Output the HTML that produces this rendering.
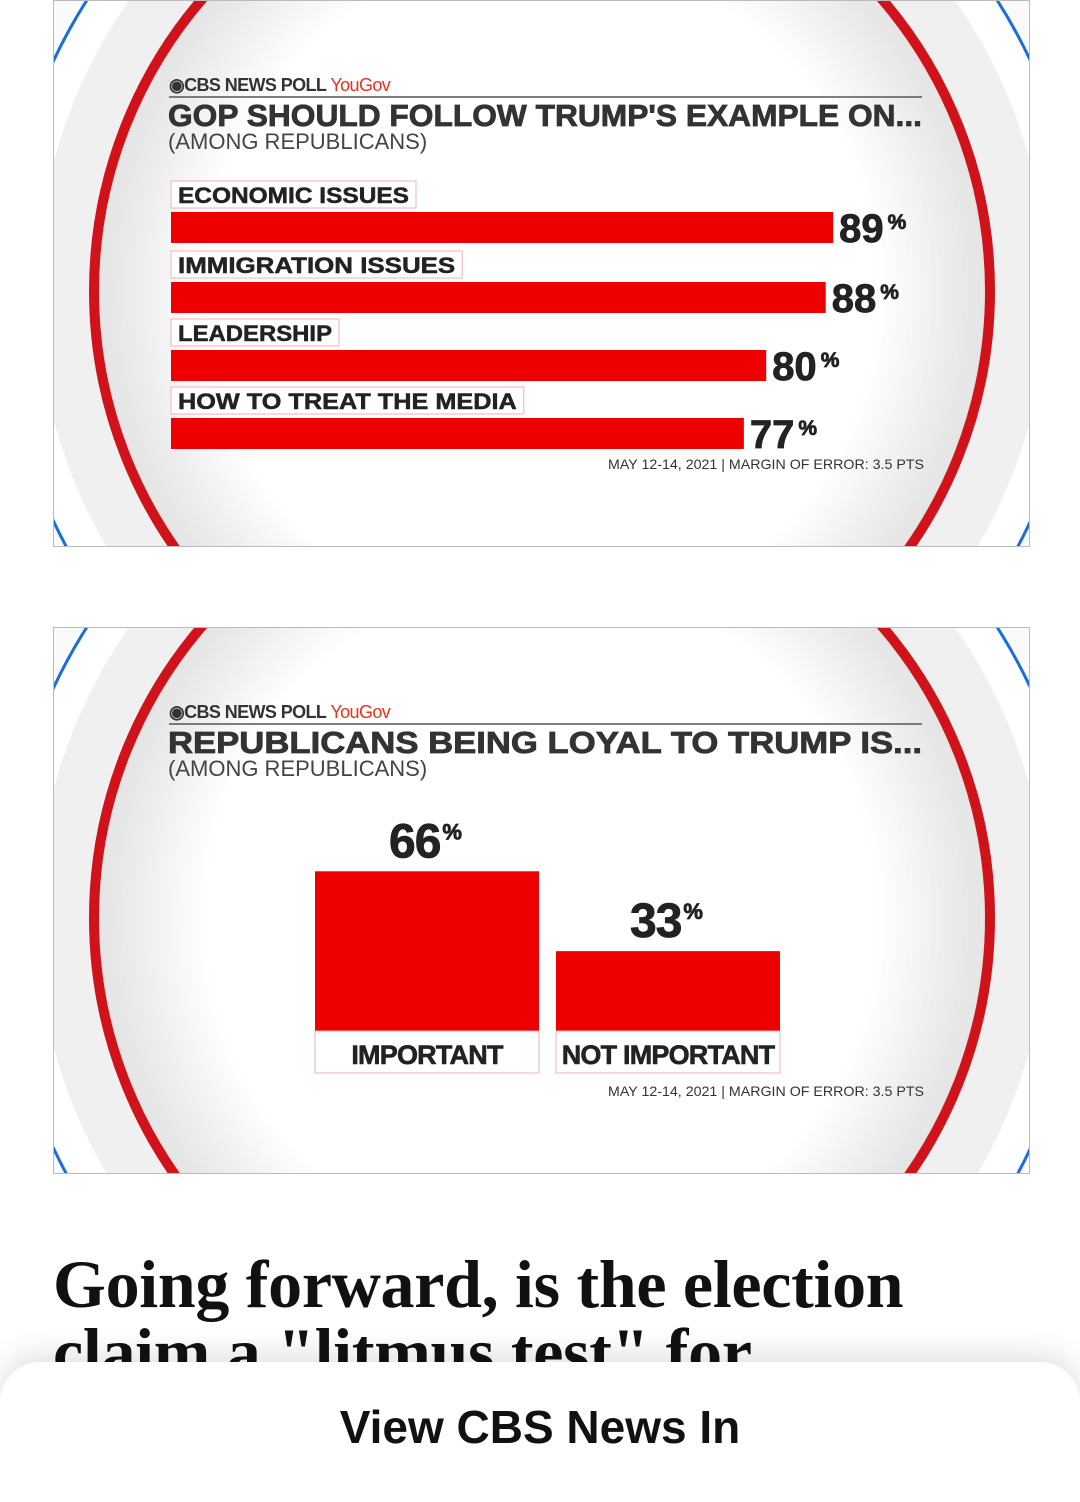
<!DOCTYPE html>
<html><head><meta charset="utf-8"><style>
body{margin:0;width:1080px;height:1478px;background:#fff;position:relative;overflow:hidden;font-family:"Liberation Sans",sans-serif}
.panel{position:absolute;left:53px;width:977px;height:547px;border:1px solid #bbb;box-sizing:border-box;overflow:hidden}
</style></head><body>
<div class="panel" style="top:0">
<svg id="c1" width="977" height="547"></svg></div>
<div class="panel" style="top:627px">
<svg id="c2" width="977" height="547"></svg></div>
<div style="position:absolute;left:53px;top:1250px;font-family:'Liberation Serif',serif;font-weight:bold;font-size:68px;line-height:68px;letter-spacing:-0.3px;color:#111;white-space:nowrap">Going forward, is the election<br>claim a "litmus test" for</div>
<div style="position:absolute;left:0;top:1362px;width:1080px;height:140px;background:#fff;border-radius:40px 40px 0 0;box-shadow:0 -8px 30px rgba(0,0,0,0.12)"></div>
<div style="position:absolute;left:0;width:1080px;top:1400px;text-align:center;font-size:46px;font-weight:bold;color:#111">View CBS News In</div>
<script>
const NS='http://www.w3.org/2000/svg';
const cats1=['ECONOMIC ISSUES','IMMIGRATION ISSUES','LEADERSHIP','HOW TO TREAT THE MEDIA'];
const vals1=[89,88,80,77];
const cats2=['IMPORTANT','NOT IMPORTANT'];
const vals2=[66,33];
function mk(p,t,a,txt){const e=document.createElementNS(NS,t);for(const k in a)e.setAttribute(k,a[k]);if(txt!==undefined)e.textContent=txt;p.appendChild(e);return e;}
function bg(svg,title){
 const d=mk(svg,'defs',{});
 const g=mk(d,'radialGradient',{id:'g'+svg.id,cx:'0.5',cy:'0.5',r:'0.5'});
 mk(g,'stop',{offset:'0.75',"stop-color":'#ffffff'});mk(g,'stop',{offset:'1',"stop-color":'#e2e2e2'});
 const r0=mk(svg,'rect',{x:0,y:0,width:977,height:547,fill:'#fafafa'});
 
 mk(svg,'circle',{cx:488,cy:290,r:540,fill:'#fff',stroke:'#1a6fd6','stroke-width':3});
 mk(svg,'circle',{cx:488,cy:290,r:505,fill:'#f0f0f0'});
 mk(svg,'circle',{cx:488,cy:290,r:448,fill:'url(#g'+svg.id+')',stroke:'#d0121b','stroke-width':10});
 mk(svg,'circle',{cx:488,cy:290,r:438,fill:'none',stroke:'#e6e6e6','stroke-width':6});
 const b=mk(svg,'text',{x:115,y:90,'font-size':18,'font-weight':'bold',fill:'#333','letter-spacing':'-0.6'},'◉CBS NEWS POLL ');
 
 mk(b,'tspan',{fill:'#e8331c','font-weight':'normal'},'YouGov');
 mk(svg,'line',{x1:115,y1:96,x2:868,y2:96,stroke:'#555','stroke-width':1.5});
 const t=mk(svg,'text',{x:114,y:125,'font-size':31,'font-weight':'bold',fill:'#333',stroke:'#333','stroke-width':0.8,'textLength':754,'lengthAdjust':'spacingAndGlyphs'},title);
 
 const s=mk(svg,'text',{x:114,y:148,'font-size':22,fill:'#444'},'(AMONG REPUBLICANS)');
 
 const f=mk(svg,'text',{x:554,y:468,'font-size':14,fill:'#333','textLength':316,'lengthAdjust':'spacingAndGlyphs'},'MAY 12-14, 2021 | MARGIN OF ERROR: 3.5 PTS');
 
}
const c1=document.getElementById('c1');
bg(c1,"GOP SHOULD FOLLOW TRUMP'S EXAMPLE ON...");
const x0=117,xs=v=>v*7.44;
const rowY=[180,250,318,386];
cats1.forEach((c,i)=>{
 const y=rowY[i];
 const tw=c.length*15.4;
 const lb=mk(c1,'rect',{x:117,y:y,width:tw+14,height:27,fill:'#fff',stroke:'#f2b0b0'});
 
 const lt=mk(c1,'text',{x:124,y:y+22,'font-size':22,'font-weight':'bold',fill:'#222',stroke:'#222','stroke-width':0.5,'textLength':tw,'lengthAdjust':'spacingAndGlyphs'},c);
 
 const r=mk(c1,'rect',{x:x0,y:y+31,width:xs(vals1[i]),height:31,fill:'#ee0000'});
 
 const v=mk(c1,'text',{x:x0+xs(vals1[i])+6,y:y+61,'font-size':40,'font-weight':'bold',fill:'#222',stroke:'#222','stroke-width':0.8},vals1[i]);
 
 mk(v,'tspan',{'font-size':21,dy:-13,dx:4},'%');
});
const c2=document.getElementById('c2');
bg(c2,"REPUBLICANS BEING LOYAL TO TRUMP IS...");
const base=403,ys=v=>v*2.42,bx=[261,502],bw=224;
cats2.forEach((c,i)=>{
 const h=ys(vals2[i]);
 const r=mk(c2,'rect',{x:bx[i],y:base-h,width:bw,height:h,fill:'#ee0000'});
 
 const lb=mk(c2,'rect',{x:bx[i],y:base,width:bw,height:42,fill:'#fff',stroke:'#f2b0b0'});
 
 const lt=mk(c2,'text',{x:bx[i]+bw/2,y:base+33,'font-size':27,'font-weight':'bold',fill:'#222',stroke:'#222','stroke-width':0.6,'text-anchor':'middle','letter-spacing':'-0.8'},c);
 
 const v=mk(c2,'text',{x:bx[i]+bw/2-2,y:base-h-14,'font-size':48,'font-weight':'bold',fill:'#222',stroke:'#222','stroke-width':0.8,'text-anchor':'middle','letter-spacing':'-1'},vals2[i]);
 
 mk(v,'tspan',{'font-size':22,dy:-18,dx:2},'%');
});
</script>
</body></html>
